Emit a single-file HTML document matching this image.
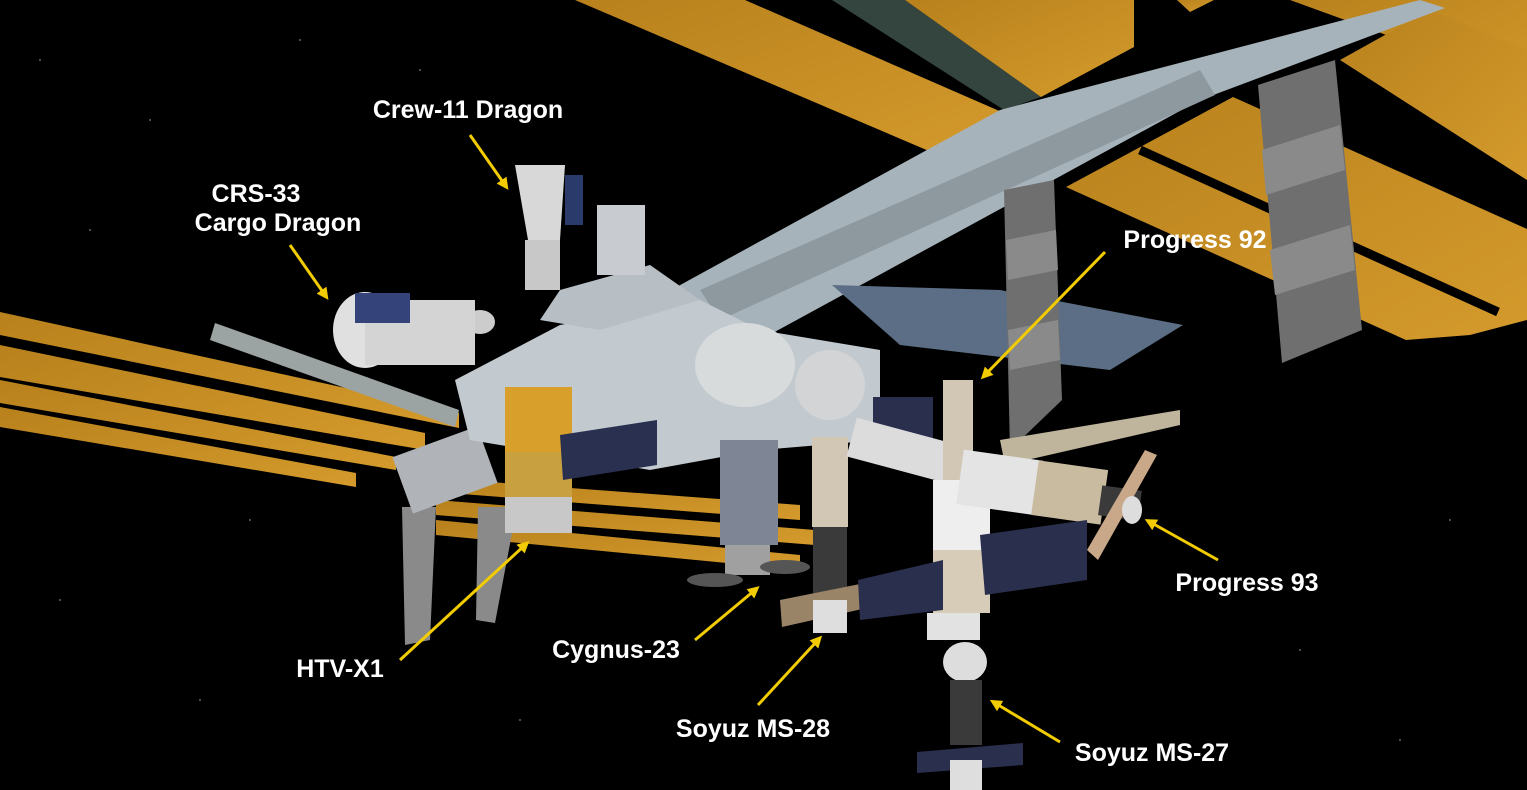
<!DOCTYPE html>
<html><head><meta charset="utf-8"><style>
html,body{margin:0;padding:0;background:#000;}
svg{display:block}
text{font-family:"Liberation Sans",sans-serif;font-weight:bold;fill:#fff;font-size:25px}
</style></head><body>
<svg width="1527" height="790" viewBox="0 0 1527 790" xmlns="http://www.w3.org/2000/svg">
<defs>
<marker id="ah" markerWidth="12" markerHeight="12" refX="6" refY="6" orient="auto" markerUnits="userSpaceOnUse">
<path d="M0,0 L12,6 L0,12 Z" fill="#f2cc00"/></marker>
<linearGradient id="gold" x1="0" y1="0" x2="1" y2="1"><stop offset="0" stop-color="#b8811c"/><stop offset="1" stop-color="#d49a2c"/></linearGradient>
</defs>
<rect width="1527" height="790" fill="#000"/>
<g fill="#666">
<circle cx="40" cy="60" r="1"/><circle cx="150" cy="120" r="1"/><circle cx="90" cy="230" r="1"/><circle cx="300" cy="40" r="1"/><circle cx="420" cy="70" r="1"/><circle cx="60" cy="600" r="1"/><circle cx="200" cy="700" r="1"/><circle cx="1300" cy="650" r="1"/><circle cx="1450" cy="520" r="1"/><circle cx="1400" cy="740" r="1"/><circle cx="250" cy="520" r="1"/><circle cx="520" cy="720" r="1"/>
</g>
<!-- upper arrays -->
<polygon points="575,0 745,0 1004,113 943,157" fill="url(#gold)"/>
<polygon points="832,0 905,0 1041,97 1004,110" fill="#34443f"/>
<polygon points="905,0 1134,0 1134,47 1041,97" fill="url(#gold)"/>
<polygon points="1177,0 1214,0 1190,12" fill="url(#gold)"/>
<polygon points="1290,0 1527,0 1527,110 1400,40" fill="url(#gold)"/>
<polygon points="1340,60 1430,10 1527,50 1527,180" fill="url(#gold)"/>
<polygon points="1233,97 1527,229 1527,320 1470,335 1406,340 1066,187" fill="url(#gold)"/>
<line x1="1140" y1="150" x2="1498" y2="312" stroke="#000" stroke-width="9"/>
<!-- truss -->
<polygon points="470,400 1000,110 1420,0 1445,8 1200,100 760,340 480,432" fill="#a7b3bb"/>
<polygon points="700,290 1200,70 1215,95 720,320" fill="#8d999f"/>
<polygon points="832,285 1000,290 1183,325 1110,370 900,345" fill="#5b6e85"/>
<!-- radiators -->
<polygon points="1004,190 1054,180 1062,400 1010,450" fill="#6f6f6f"/>
<polygon points="1258,85 1335,60 1362,330 1282,363" fill="#6f6f6f"/>
<g fill="#8a8a8a"><polygon points="1262,150 1340,125 1345,170 1266,195"/><polygon points="1270,250 1350,225 1355,270 1275,295"/><polygon points="1006,240 1056,230 1058,270 1008,280"/><polygon points="1008,330 1058,320 1060,360 1010,370"/></g>
<!-- left arrays -->
<polygon points="0,312 459,413 459,428 0,335" fill="url(#gold)"/>
<polygon points="0,345 425,433 425,450 0,377" fill="url(#gold)"/>
<polygon points="0,380 396,457 396,470 0,403" fill="url(#gold)"/>
<polygon points="0,407 356,473 356,487 0,427" fill="url(#gold)"/>
<polygon points="215,323 459,410 455,427 210,340" fill="#9ca3a3"/>
<polygon points="436,478 800,505 800,520 436,492" fill="url(#gold)"/>
<polygon points="436,500 815,530 815,545 436,515" fill="url(#gold)"/>
<polygon points="436,520 800,555 800,570 436,535" fill="url(#gold)"/>
<polygon points="402,507 436,507 430,640 405,645" fill="#8a8a8a"/>
<polygon points="478,507 517,507 495,623 476,620" fill="#8a8a8a"/>
<rect x="400" y="440" width="90" height="60" fill="#b0b4b8" transform="rotate(-20 445 470)"/>
<!-- main modules -->
<polygon points="455,380 560,325 700,300 760,330 880,350 880,440 760,450 650,470 470,440" fill="#c2cad0"/>
<polygon points="560,290 650,265 700,300 600,330 540,320" fill="#b7bfc5"/>
<ellipse cx="745" cy="365" rx="50" ry="42" fill="#d8dbdc"/>
<ellipse cx="830" cy="385" rx="35" ry="35" fill="#d2d4d5"/>
<rect x="597" y="205" width="48" height="70" fill="#c8ccd0"/>
<ellipse cx="480" cy="322" rx="15" ry="12" fill="#ccc"/>
<polygon points="515,165 565,165 560,240 528,240" fill="#d8d8d8"/>
<rect x="565" y="175" width="18" height="50" fill="#2a3a6a"/>
<rect x="525" y="240" width="35" height="50" fill="#c8c8c8"/>
<ellipse cx="365" cy="330" rx="32" ry="38" fill="#e0e0e0"/>
<rect x="365" y="300" width="110" height="65" fill="#d4d4d4"/>
<rect x="355" y="293" width="55" height="30" fill="#34447a"/>
<rect x="505" y="387" width="67" height="65" fill="#d8a02a"/>
<rect x="505" y="452" width="67" height="45" fill="#c9a040"/>
<rect x="505" y="497" width="67" height="36" fill="#c8c8c8"/>
<polygon points="560,435 657,420 657,465 563,480" fill="#2a3050"/>
<rect x="720" y="440" width="58" height="105" fill="#7e8594"/>
<rect x="725" y="545" width="45" height="30" fill="#a0a0a0"/>
<ellipse cx="715" cy="580" rx="28" ry="7" fill="#555"/><ellipse cx="785" cy="567" rx="25" ry="7" fill="#555"/>
<!-- Russian segment -->
<rect x="873" y="397" width="60" height="63" fill="#2b2f4e"/>
<rect x="812" y="437" width="36" height="90" fill="#d2c7b4"/>
<rect x="813" y="527" width="34" height="73" fill="#3a3a3a"/>
<polygon points="780,600 880,580 880,605 782,627" fill="#9a8468"/>
<rect x="813" y="600" width="34" height="33" fill="#dedede"/>
<rect x="850" y="430" width="100" height="40" fill="#dcdcdc" transform="rotate(15 900 450)"/>
<rect x="943" y="380" width="30" height="100" fill="#d2c7b4"/>
<rect x="933" y="480" width="57" height="70" fill="#eeeeee"/>
<rect x="933" y="550" width="57" height="63" fill="#d6ccb8"/>
<rect x="927" y="613" width="53" height="27" fill="#e2e2e2"/>
<polygon points="1000,440 1180,410 1180,425 1005,465" fill="#bfb49c"/>
<rect x="960" y="455" width="80" height="55" fill="#e4e4e4" transform="rotate(8 1000 480)"/>
<rect x="1035" y="465" width="70" height="55" fill="#c9bba0" transform="rotate(8 1070 490)"/>
<rect x="1100" y="488" width="40" height="30" fill="#3a3a3a" transform="rotate(8 1120 503)"/>
<polygon points="1087,550 1145,450 1157,455 1098,560" fill="#c9a88a"/>
<ellipse cx="1132" cy="510" rx="10" ry="14" fill="#ddd"/>
<polygon points="980,535 1087,520 1087,580 985,595" fill="#2b2f4e"/>
<polygon points="858,580 943,560 943,610 860,620" fill="#2b2f4e"/>
<ellipse cx="965" cy="662" rx="22" ry="20" fill="#ddd"/>
<rect x="950" y="680" width="32" height="65" fill="#3a3a3a"/>
<polygon points="917,752 1023,743 1023,765 917,773" fill="#2b2f4e"/>
<rect x="950" y="760" width="32" height="30" fill="#dedede"/>
<g stroke="#f2cc00" stroke-width="3" fill="none" marker-end="url(#ah)">
<line x1="470" y1="135" x2="505" y2="185"/>
<line x1="290" y1="245" x2="325" y2="295"/>
<line x1="1105" y1="252" x2="985" y2="375"/>
<line x1="1218" y1="560" x2="1150" y2="522"/>
<line x1="400" y1="660" x2="525" y2="545"/>
<line x1="695" y1="640" x2="755" y2="590"/>
<line x1="758" y1="705" x2="818" y2="640"/>
<line x1="1060" y1="742" x2="995" y2="703"/>
</g>
<text x="468" y="118" text-anchor="middle">Crew-11 Dragon</text>
<text x="256" y="202" text-anchor="middle">CRS-33</text>
<text x="278" y="231" text-anchor="middle">Cargo Dragon</text>
<text x="1195" y="248" text-anchor="middle">Progress 92</text>
<text x="1247" y="591" text-anchor="middle">Progress 93</text>
<text x="340" y="677" text-anchor="middle">HTV-X1</text>
<text x="616" y="658" text-anchor="middle">Cygnus-23</text>
<text x="753" y="737" text-anchor="middle">Soyuz MS-28</text>
<text x="1152" y="761" text-anchor="middle">Soyuz MS-27</text>
</svg>
</body></html>
